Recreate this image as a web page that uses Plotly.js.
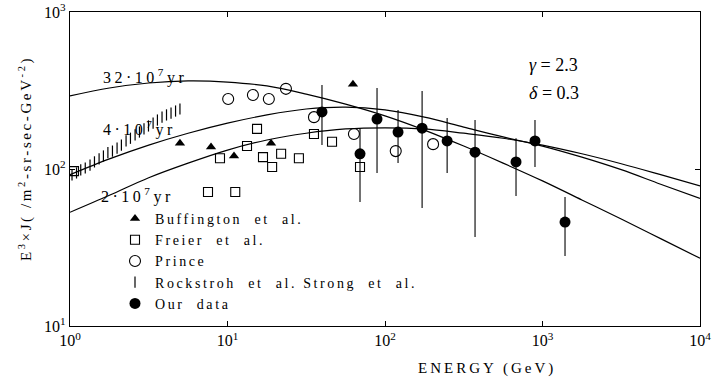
<!DOCTYPE html>
<html>
<head>
<meta charset="utf-8">
<script src="https://cdn.plot.ly/plotly-3.0.1.min.js"></script>
<style>
  html, body { margin: 0; padding: 0; background: #fff; }
  #chart { width: 715px; height: 380px; }
</style>
</head>
<body>
<div id="chart"></div>
<script>
// ---- Data ----
// Model curves (E^3 J at energies in GeV)
const curveE   = [1, 1.78, 3.16, 5.62, 10, 17.8, 31.6, 56.2, 100, 178, 316, 562, 1000, 1778, 3162, 5623, 10000];
const curve32  = [292, 328, 353, 364, 358, 338, 300, 259, 218, 177, 140, 109, 84, 63.5, 48, 36, 27];
const curve4   = [92, 116, 142, 169, 196, 221, 241, 248, 238, 214, 185, 160, 140, 119, 99, 80, 65];
const curve2   = [53, 68, 88, 109, 132, 153, 169, 180, 183, 180, 169, 157, 142, 125, 108, 92, 78];

// Buffington et al.
const buffE   = [4.99, 7.86, 11.0, 18.9, 62.6];
const buffVal = [146, 138, 121, 146, 347];

// Freier et al.
const freierE   = [1.06, 7.52, 11.2, 8.96, 13.3, 15.4, 16.8, 19.2, 21.9, 28.4, 35.4, 46.1, 69.4];
const freierVal = [97, 71.4, 71.4, 117, 140, 180, 119, 103, 125, 117, 167, 149, 103];

// Prince
const princeE   = [10.1, 14.5, 18.3, 23.5, 35.4, 63.5, 117, 202];
const princeVal = [279, 296, 279, 324, 214, 167, 130, 144];

// Rockstroh et al., Strong et al. (hatched band)
const rockE   = [1.03, 1.10, 1.17, 1.25, 1.34, 1.43, 1.53, 1.63, 1.74, 1.86, 1.99, 2.12, 2.27, 2.42, 2.59, 2.76, 2.95, 3.15, 3.37, 3.59, 3.84, 4.10, 4.38, 4.68, 4.99];
const rockVal = [91.6, 94.4, 98.6, 101.5, 106, 111, 116, 121, 127, 130, 136, 142, 151, 157, 165, 172, 180, 188, 196, 205, 214, 221, 227, 234, 241];

// Our data with error bar ends
const ourE   = [39.8, 69.4, 89, 121, 172, 248, 373, 679, 896, 1390];
const ourVal = [231, 125, 208, 172, 182, 151, 128, 111, 151, 45.9];
const ourHi  = [343, 182, 328, 238, 314, 211, 205, 157, 205, 66.4];
const ourLo  = [142, 61.7, 94.4, 109, 56.5, 94.4, 36.9, 67.3, 103, 27.9];

// Tick labels
const xTickVals = [1, 10, 100, 1000, 10000];
const xTickText = ['10<sup>0</sup>', '10<sup>1</sup>', '10<sup>2</sup>', '10<sup>3</sup>', '10<sup>4</sup>'];
const yTickVals = [10, 100, 1000];
const yTickText = ['10<sup>1</sup>', '10<sup>2</sup>', '10<sup>3</sup>'];

// ---- Drawing ----
const SERIF = '"Liberation Serif", "Times New Roman", serif';
const ls = (s, px) => '<span style="letter-spacing:' + px + 'px">' + s + '</span>';

const curveLine = { color: 'black', width: 1.2, shape: 'spline', smoothing: 1 };

const traces = [
  { x: curveE, y: curve32, mode: 'lines', line: curveLine, showlegend: false, hoverinfo: 'skip' },
  { x: curveE, y: curve4,  mode: 'lines', line: curveLine, showlegend: false, hoverinfo: 'skip' },
  { x: curveE, y: curve2,  mode: 'lines', line: curveLine, showlegend: false, hoverinfo: 'skip' },
  { x: buffE, y: buffVal, mode: 'markers', name: ls('Buffington  et  al.', 2.6),
    marker: { symbol: 'triangle-up', size: 9, color: 'black' } },
  { x: freierE, y: freierVal, mode: 'markers', name: ls('Freier  et  al.', 2.6),
    marker: { symbol: 'square-open', size: 9, color: 'black', line: { width: 1.1, color: 'black' } } },
  { x: princeE, y: princeVal, mode: 'markers', name: ls('Prince', 2.6),
    marker: { symbol: 'circle-open', size: 11, color: 'black', line: { width: 1.1, color: 'black' } } },
  { x: rockE, y: rockVal, mode: 'markers', name: ls('Rockstroh  et  al. Strong  et  al.', 2.6),
    marker: { symbol: 'line-ns', size: 8, color: 'black', line: { width: 1.2, color: 'black' } } },
  { x: ourE, y: ourVal, mode: 'markers', name: ls('Our  data', 2.6),
    marker: { symbol: 'circle', size: 11, color: 'black' },
    error_y: { type: 'data', symmetric: false,
      array: ourHi.map((h, i) => h - ourVal[i]),
      arrayminus: ourLo.map((l, i) => ourVal[i] - l),
      width: 0, thickness: 1.1, color: 'black' } }
];

const px2x = p => (p - 70) / 630;
const py2y = p => (326 - p) / 314;

const annFont = { family: SERIF, size: 16, color: 'black' };
const annotations = [
  { text: ls('32·10<sup>7</sup>yr', 3.5), x: px2x(101), y: py2y(77) },
  { text: ls('4·10<sup>7</sup>yr', 3.5),  x: px2x(101), y: py2y(128) },
  { text: ls('2·10<sup>7</sup>yr', 3.5),  x: px2x(99),  y: py2y(195) },
  { text: '<i>γ</i> = 2.3', x: px2x(527), y: py2y(65), font: { family: SERIF, size: 18, color: 'black' } },
  { text: '<i>δ</i> = 0.3', x: px2x(527), y: py2y(93), font: { family: SERIF, size: 18, color: 'black' } },
  { text: ls('ENERGY (GeV)', 3), x: px2x(487), y: py2y(368), xanchor: 'center',
    font: { family: SERIF, size: 15, color: 'black' } },
  { text: ls('E<sup>3</sup>×J( /m<sup>2</sup>-sr-sec-GeV<sup>-2</sup>)', 2.6), textangle: -90,
    x: px2x(25), y: py2y(159), xanchor: 'center', font: { family: SERIF, size: 15, color: 'black' } }
].map(a => Object.assign({ xref: 'paper', yref: 'paper', xanchor: 'left', yanchor: 'middle',
  showarrow: false, font: annFont }, a));

const layout = {
  width: 715, height: 380,
  margin: { l: 70, r: 15, t: 12, b: 54 },
  paper_bgcolor: 'white', plot_bgcolor: 'white',
  font: { family: SERIF, size: 15, color: 'black' },
  showlegend: true,
  legend: { x: px2x(115), y: py2y(203), xanchor: 'left', yanchor: 'top',
    bgcolor: 'rgba(0,0,0,0)', font: { family: SERIF, size: 14, color: 'black' },
    itemclick: false },
  xaxis: {
    type: 'log', range: [0, 4], tickvals: xTickVals, ticktext: xTickText,
    ticks: 'inside', ticklen: 5, tickwidth: 1, tickcolor: 'black',
    showline: true, linecolor: 'black', linewidth: 1.2, mirror: 'ticks',
    showgrid: false, zeroline: false, ticklabeloverflow: 'allow',
    tickfont: { family: SERIF, size: 16, color: 'black' }
  },
  yaxis: {
    type: 'log', range: [1, 3], tickvals: yTickVals, ticktext: yTickText,
    ticks: 'inside', ticklen: 5, tickwidth: 1, tickcolor: 'black',
    showline: true, linecolor: 'black', linewidth: 1.2, mirror: 'ticks',
    showgrid: false, zeroline: false, ticklabeloverflow: 'allow',
    tickfont: { family: SERIF, size: 16, color: 'black' }
  },
  annotations: annotations
};

Plotly.newPlot('chart', traces, layout, { staticPlot: true, displayModeBar: false });
</script>
</body>
</html>
